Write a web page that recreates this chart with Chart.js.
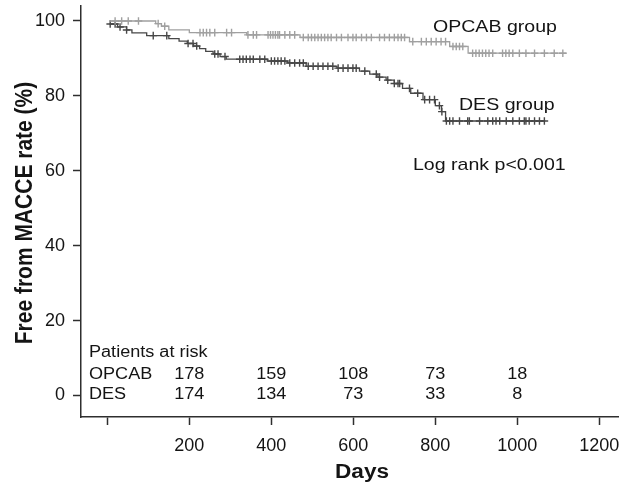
<!DOCTYPE html>
<html>
<head>
<meta charset="utf-8">
<script src="https://cdn.jsdelivr.net/npm/chart.js@4.4.0/dist/chart.umd.min.js"></script>
<style>
html,body{margin:0;padding:0;background:#fff;}
#wrap{width:619px;height:487px;}
</style>
</head>
<body>
<div id="wrap"><canvas id="c" width="619" height="487"></canvas></div>
<script>
// ---- data ----
const opcabDays   = [5, 118, 132, 150, 200, 340, 470, 737, 835, 880, 1120];
const opcabSurv   = [100, 99.3, 98.6, 97.6, 96.9, 96.3, 95.6, 94.5, 93.2, 91.4, 91.4];
const desDays     = [6, 25, 47, 60, 96, 150, 175, 195, 210, 225, 240, 258, 275, 290, 390, 440, 485, 560, 615, 640, 660, 680, 700, 720, 740, 770, 800, 815, 825, 1068];
const desSurv     = [99.2, 98.4, 97.6, 96.8, 96.1, 95.3, 94.6, 94.0, 93.3, 92.6, 91.9, 91.2, 90.5, 89.8, 89.3, 88.8, 87.9, 87.4, 86.6, 85.8, 85.0, 84.2, 83.3, 82.0, 80.7, 79.0, 77.4, 75.8, 73.3, 73.3];
const opcabCensor = [19, 35, 51, 76, 124, 140, 226, 234, 242, 250, 262, 291, 303, 343, 356, 364, 392, 398, 404, 410, 416, 420, 433, 445, 457, 478, 490, 498, 506, 514, 522, 530, 538, 546, 559, 571, 587, 599, 607, 620, 632, 644, 664, 676, 688, 700, 709, 717, 725, 745, 766, 778, 790, 802, 814, 825, 843, 851, 859, 867, 891, 899, 907, 915, 923, 931, 940, 964, 972, 980, 989, 1005, 1021, 1042, 1066, 1090, 1111];
const desCensor   = [7, 19, 31, 47, 112, 145, 197, 209, 218, 262, 270, 287, 323, 331, 339, 348, 356, 372, 384, 400, 408, 416, 424, 433, 445, 457, 469, 478, 490, 502, 514, 526, 538, 550, 563, 575, 587, 599, 607, 628, 656, 664, 684, 700, 709, 713, 737, 757, 774, 786, 798, 810, 816, 827, 835, 843, 859, 879, 883, 908, 928, 940, 948, 957, 973, 989, 1005, 1017, 1021, 1029, 1042, 1054, 1066];
const xTicks      = [0, 200, 400, 600, 800, 1000, 1200];
const xTickLabels = ['', '200', '400', '600', '800', '1000', '1200'];
const yTicks      = [0, 20, 40, 60, 80, 100];
const riskDays    = [200, 400, 600, 800, 1000];
const riskOpcab   = [178, 159, 108, 73, 18];
const riskDes     = [174, 134, 73, 33, 8];
const groupNames  = ['OPCAB', 'DES'];

// ---- helpers ----
function survAt(days, vals, t) {
  let v = vals[0];
  for (let i = 0; i < days.length; i++) { if (days[i] <= t) v = vals[i]; }
  return v;
}
const toPts = (d, v) => d.map((x, i) => ({x: x, y: v[i]}));
const censorPts = (c, d, v) => c.map(t => ({x: t, y: survAt(d, v, t)}));

const OPC_COL = '#a0a0a0';
const DES_COL = '#474747';
const AXIS_COL = '#2e2e2e';
const TEXT_COL = '#141414';
const FONT = '"Liberation Sans", Arial, sans-serif';

// stretch the plot area to the right edge of the canvas (as in the reference)
const fullWidthPlugin = {
  id: 'fullWidth',
  afterLayout(chart) {
    const xs = chart.scales.x;
    const ca = chart.chartArea;
    const R = chart.width;
    ca.right = R; ca.width = R - ca.left;
    xs.right = R; xs.width = R - xs.left;
    xs.configure();
  }
};

const textPlugin = {
  id: 'texts',
  afterDraw(chart) {
    const ctx = chart.ctx;
    const xs = chart.scales.x;
    function txt(s, x, y, size, bold, align, sx) {
      ctx.save();
      ctx.font = (bold ? 'bold ' : '') + size + 'px ' + FONT;
      ctx.fillStyle = TEXT_COL;
      ctx.textBaseline = 'alphabetic';
      ctx.textAlign = align || 'left';
      ctx.translate(x, y);
      ctx.scale(sx || 1.13, 1);
      ctx.fillText(s, 0, 0);
      ctx.restore();
    }
    txt('OPCAB group', 433, 32, 17, false, 'left', 1.15);
    txt('DES group', 459, 110, 17, false, 'left', 1.15);
    txt('Log rank p<0.001', 413, 170, 17, false, 'left', 1.15);
    txt('Patients at risk', 89, 357, 16, false);
    txt(groupNames[0], 89, 379, 16, false);
    txt(groupNames[1], 89, 399, 16, false);
    riskDays.forEach((d, i) => {
      const px = xs.getPixelForValue(d);
      txt(String(riskOpcab[i]), px, 379, 16, false, 'center');
      txt(String(riskDes[i]), px, 399, 16, false, 'center');
    });
    // axis titles
    txt('Days', 362, 478, 20, true, 'center');
    ctx.save();
    ctx.font = 'bold 21px ' + FONT;
    ctx.fillStyle = TEXT_COL;
    ctx.textAlign = 'center';
    ctx.textBaseline = 'middle';
    ctx.translate(25, 213);
    ctx.scale(1.13, 1);
    ctx.rotate(-Math.PI / 2);
    ctx.fillText('Free from MACCE rate (%)', 0, 0);
    ctx.restore();
  }
};

new Chart(document.getElementById('c'), {
  type: 'line',
  data: {
    datasets: [
      {label: 'OPCAB', data: toPts(opcabDays, opcabSurv), borderColor: OPC_COL, borderWidth: 1.3, pointRadius: 0, stepped: 'before', fill: false},
      {label: 'OPCAB censored', data: censorPts(opcabCensor, opcabDays, opcabSurv), showLine: false, pointStyle: 'cross', pointRadius: 3.8, borderColor: OPC_COL, pointBorderWidth: 1.4},
      {label: 'DES', data: toPts(desDays, desSurv), borderColor: DES_COL, borderWidth: 1.3, pointRadius: 0, stepped: 'before', fill: false},
      {label: 'DES censored', data: censorPts(desCensor, desDays, desSurv), showLine: false, pointStyle: 'cross', pointRadius: 3.8, borderColor: DES_COL, pointBorderWidth: 1.4}
    ]
  },
  options: {
    responsive: false,
    animation: false,
    devicePixelRatio: 1,
    layout: {padding: {left: 0, right: 0, top: 6, bottom: 0}},
    plugins: {legend: {display: false}, tooltip: {enabled: false}},
    scales: {
      x: {
        type: 'linear',
        min: -64.2, max: 1248,
        afterFit(s) { s.height = 70; s.paddingLeft = 0; s.paddingRight = 0; },
        afterBuildTicks(s) { s.ticks = xTicks.map(v => ({value: v})); },
        ticks: {
          autoSkip: false, maxRotation: 0, padding: 10,
          color: TEXT_COL, font: {family: FONT, size: 18},
          callback: (v) => { const i = xTicks.indexOf(v); return i >= 0 ? xTickLabels[i] : ''; }
        },
        grid: {drawOnChartArea: false, drawTicks: true, tickLength: 8, tickColor: AXIS_COL, tickWidth: 1.5},
        border: {display: true, color: AXIS_COL, width: 1.5}
      },
      y: {
        type: 'linear',
        min: -5.74, max: 104.0,
        afterFit(s) { s.width = 81; s.paddingTop = 0; s.paddingBottom = 0; },
        afterBuildTicks(s) { s.ticks = yTicks.map(v => ({value: v})); },
        ticks: {
          autoSkip: false, padding: 8,
          color: TEXT_COL, font: {family: FONT, size: 18},
          callback: (v) => String(v)
        },
        grid: {drawOnChartArea: false, drawTicks: true, tickLength: 8, tickColor: AXIS_COL, tickWidth: 1.5},
        border: {display: true, color: AXIS_COL, width: 1.5}
      }
    }
  },
  plugins: [fullWidthPlugin, textPlugin]
});
</script>
</body>
</html>
